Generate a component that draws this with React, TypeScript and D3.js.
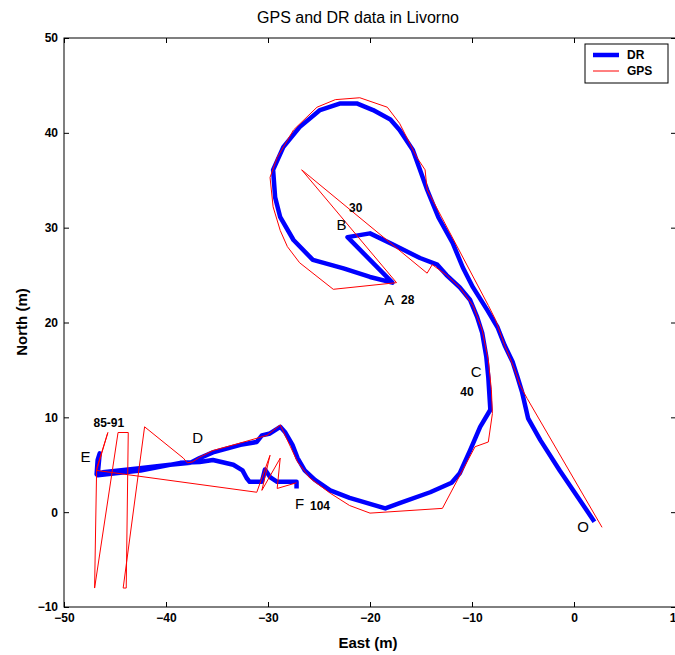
import React, { useEffect, useRef } from 'react';
import * as d3 from 'd3';

// dead reckoning track, east/north in metres (sample order O -> F)
const drEast = [2.0, -1.4, -3.3, -4.5, -5.1, -5.5, -6.0, -6.8, -7.5, -8.5, -9.9, -10.9, -11.9, -13.3, -14.4, -15.1,
  -15.8, -17.1, -18.0, -19.7, -21.3, -22.9, -24.9, -26.9, -28.5, -29.5, -29.3, -28.8, -27.5, -25.6, -22.6, -20.0, -17.8,
  -22.2, -20.0, -17.7, -15.1, -13.4, -12.5, -11.2, -10.2, -9.5, -9.0, -8.6, -8.4, -8.2,
  -9.2, -10.2, -11.2, -12.0, -14.1, -17.1, -18.5, -22.0, -23.9, -25.4, -26.4, -27.1, -27.6, -28.3, -28.8,
  -29.8, -30.6, -31.1, -32.7, -35.4, -36.7, -37.6, -39.6, -42.8, -46.2, -46.8, -46.7, -46.5, -46.7,
  -42.5, -38.6, -36.7, -35.4, -33.4, -32.5, -32.1, -31.8, -30.6, -30.3, -29.8, -29.1, -27.2, -27.2];
const drNorth = [-1.0, 4.4, 7.6, 9.9, 12.7, 14.1, 15.8, 17.6, 19.5, 21.3, 23.7, 25.8, 28.4, 31.1, 34.0, 36.1,
  38.2, 40.3, 41.4, 42.4, 43.1, 43.1, 42.4, 40.6, 38.5, 36.1, 33.2, 31.1, 28.7, 26.6, 25.7, 24.8, 24.2,
  29.0, 29.4, 28.2, 26.8, 26.1, 25.0, 23.7, 22.4, 20.6, 18.9, 16.4, 14.2, 10.8,
  9.0, 6.5, 4.1, 3.1, 2.1, 0.95, 0.4, 1.5, 2.3, 3.4, 4.4, 5.7, 7.1, 8.4, 9.0,
  8.3, 8.1, 7.4, 7.1, 6.3, 5.7, 5.2, 5.0, 4.6, 4.2, 4.0, 5.5, 6.2, 3.9,
  4.4, 5.2, 5.3, 5.5, 5.0, 4.4, 3.6, 3.2, 3.2, 4.5, 3.7, 3.2, 3.2, 2.5];

// GPS fixes
const gpsEast = [2.75, -4.6, -5.3, -5.8, -6.8, -7.7, -8.4, -14.4, -14.6, -15.4, -17.1, -18.3, -21.0, -23.4, -25.2,
  -27.5, -29.1, -29.8, -29.5, -28.8, -28.1, -26.9, -23.6, -17.4, -26.7, -14.4, -13.9, -12.5, -11.2, -9.9, -9.0, -8.4,
  -8.1, -8.0, -8.4, -9.7, -12.9, -20.0, -22.0, -23.9, -25.9, -27.1, -27.8, -28.8, -30.1, -32.7, -35.4, -36.7, -37.4,
  -37.9, -38.3, -42.1, -44.2, -43.9, -43.7, -44.7, -47.0, -46.8, -45.7, -46.8, -31.1, -29.8, -30.6, -28.8, -29.1, -27.2];
const gpsNorth = [-1.6, 12.0, 13.4, 15.0, 17.6, 20.3, 21.8, 34.0, 36.1, 37.4, 41.0, 42.7, 43.7, 43.5, 42.7,
  40.3, 37.4, 35.3, 32.2, 29.7, 28.0, 26.3, 23.5, 24.2, 36.1, 25.2, 26.1, 25.0, 23.7, 21.8, 19.2, 16.0,
  12.9, 10.4, 7.4, 6.9, 0.4, -0.1, 0.7, 2.0, 3.6, 5.3, 6.9, 9.2, 8.1, 7.3, 6.5, 5.8, 5.3,
  5.2, 5.7, 9.0, -8.0, -8.0, 8.4, 8.4, -8.0, 4.6, 8.4, 4.4, 2.1, 6.0, 2.3, 5.7, 2.5, 3.1];

// point labels on the track
const letterText = ['O', 'A', 'B', 'C', 'D', 'E', 'F'];
const letterEast = [0.9, -18.1, -22.8, -9.6, -36.9, -47.9, -26.9];
const letterNorth = [-2.1, 21.8, 29.8, 14.3, 7.3, 5.3, 0.3];
const sampleText = ['28', '30', '40', '85-91', '104'];
const sampleEast = [-16.3, -21.4, -10.5, -45.6, -24.9];
const sampleNorth = [21.9, 31.6, 12.2, 9.0, 0.2];

const xTicks = [-50, -40, -30, -20, -10, 0, 10];
const yTicks = [-10, 0, 10, 20, 30, 40, 50];

const App = () => {
  const ref = useRef<SVGSVGElement>(null);

  useEffect(() => {
    const width = 675;
    const height = 655;
    const margin = { top: 38, right: -1, bottom: 48, left: 64 };

    const svg = d3.select(ref.current);
    svg.selectAll('*').remove();

    const x = d3.scaleLinear().domain([-50, 10]).range([margin.left, width - margin.right]);
    const y = d3.scaleLinear().domain([-10, 50]).range([height - margin.bottom, margin.top]);

    const font = 'Arial, "Liberation Sans", sans-serif';

    // box
    svg.append('rect')
      .attr('x', x(-50)).attr('y', y(50))
      .attr('width', x(10) - x(-50)).attr('height', y(-10) - y(50))
      .attr('fill', 'white').attr('stroke', 'black').attr('stroke-width', 1);

    // inward ticks on all sides
    const tk = 5;
    svg.append('g').attr('transform', `translate(0,${y(-10)})`)
      .call(d3.axisBottom(x).tickValues(xTicks).tickSizeInner(-tk).tickSizeOuter(0).tickPadding(6).tickFormat(d3.format('d')))
      .call(g => g.select('.domain').remove())
      .selectAll('text').style('font', `bold 12px ${font}`).attr('fill', 'black');
    svg.append('g').attr('transform', `translate(0,${y(50)})`)
      .call(d3.axisTop(x).tickValues(xTicks).tickSizeInner(-tk).tickSizeOuter(0).tickFormat(() => ''))
      .call(g => g.select('.domain').remove());
    svg.append('g').attr('transform', `translate(${x(-50)},0)`)
      .call(d3.axisLeft(y).tickValues(yTicks).tickSizeInner(-tk).tickSizeOuter(0).tickPadding(6).tickFormat(d3.format('d')))
      .call(g => g.select('.domain').remove())
      .selectAll('text').style('font', `bold 12px ${font}`).attr('fill', 'black');
    svg.append('g').attr('transform', `translate(${x(10)},0)`)
      .call(d3.axisRight(y).tickValues(yTicks).tickSizeInner(-tk).tickSizeOuter(0).tickFormat(() => ''))
      .call(g => g.select('.domain').remove());

    const line = d3.line<number>().x(i => x(i[0])).y(i => y(i[1]));
    const dr = drEast.map((e, i) => [e, drNorth[i]]);
    const gps = gpsEast.map((e, i) => [e, gpsNorth[i]]);

    svg.append('path')
      .datum(dr)
      .attr('fill', 'none')
      .attr('stroke', '#0000ff')
      .attr('stroke-width', 4.5)
      .attr('stroke-linejoin', 'round')
      .attr('d', line as any);

    svg.append('path')
      .datum(gps)
      .attr('fill', 'none')
      .attr('stroke', '#ff0000')
      .attr('stroke-width', 1)
      .attr('d', line as any);

    // annotations
    letterText.forEach((t, i) => {
      svg.append('text')
        .attr('x', x(letterEast[i])).attr('y', y(letterNorth[i]))
        .attr('text-anchor', 'middle')
        .style('font', `15px ${font}`)
        .text(t);
    });
    sampleText.forEach((t, i) => {
      svg.append('text')
        .attr('x', x(sampleEast[i])).attr('y', y(sampleNorth[i]))
        .attr('text-anchor', 'middle')
        .style('font', `bold 12px ${font}`)
        .text(t);
    });

    // title and axis labels
    svg.append('text')
      .attr('x', 358).attr('y', 23)
      .attr('text-anchor', 'middle')
      .style('font', `16px ${font}`)
      .text('GPS and DR data in Livorno');
    svg.append('text')
      .attr('x', 368).attr('y', 648)
      .attr('text-anchor', 'middle')
      .style('font', `bold 15px ${font}`)
      .text('East (m)');
    svg.append('text')
      .attr('transform', 'rotate(-90)')
      .attr('x', -322).attr('y', 27)
      .attr('text-anchor', 'middle')
      .style('font', `bold 15px ${font}`)
      .text('North (m)');

    // legend
    const legend = svg.append('g').attr('transform', 'translate(585,44)');
    legend.append('rect')
      .attr('width', 83).attr('height', 39)
      .attr('fill', 'white').attr('stroke', 'black');
    legend.append('line')
      .attr('x1', 8).attr('x2', 34).attr('y1', 11).attr('y2', 11)
      .attr('stroke', '#0000ff').attr('stroke-width', 4.5);
    legend.append('line')
      .attr('x1', 8).attr('x2', 34).attr('y1', 27).attr('y2', 27)
      .attr('stroke', '#ff0000').attr('stroke-width', 1);
    legend.append('text')
      .attr('x', 42).attr('y', 15)
      .style('font', `bold 12px ${font}`)
      .text('DR');
    legend.append('text')
      .attr('x', 42).attr('y', 31)
      .style('font', `bold 12px ${font}`)
      .text('GPS');
  }, []);

  return (
    <svg ref={ref} width={675} height={655}
      style={{ position: 'absolute', left: 0, top: 0, background: 'white' }} />
  );
};

export default App;
